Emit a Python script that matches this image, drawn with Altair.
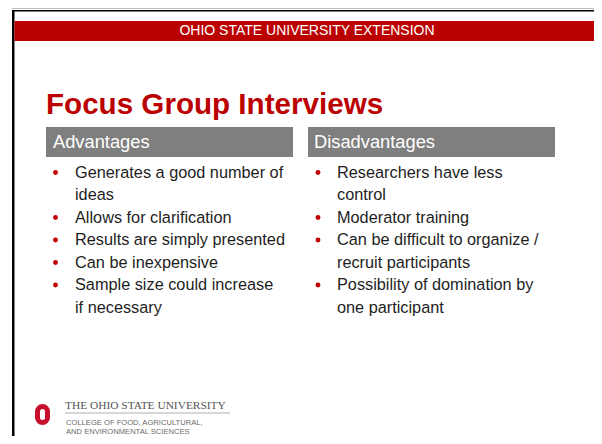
import altair as alt
import pandas as pd

# ---- content ----
banner_text = "OHIO STATE UNIVERSITY EXTENSION"
title_text = "Focus Group Interviews"
headers = ["Advantages", "Disadvantages"]
advantages = [
    ["Generates a good number of", "ideas"],
    ["Allows for clarification"],
    ["Results are simply presented"],
    ["Can be inexpensive"],
    ["Sample size could increase", "if necessary"],
]
disadvantages = [
    ["Researchers have less", "control"],
    ["Moderator training"],
    ["Can be difficult to organize /", "recruit participants"],
    ["Possibility of domination by", "one participant"],
]
logo_title = "THE OHIO STATE UNIVERSITY"
logo_sub = ["COLLEGE OF FOOD, AGRICULTURAL,", "AND ENVIRONMENTAL SCIENCES"]

# ---- layout (page pixel coordinates) ----
W, H = 586, 428
XS = alt.Scale(domain=[8, 8 + W], nice=False, zero=False)
YS = alt.Scale(domain=[8, 8 + H], nice=False, zero=False, reverse=True)
FONT = "Liberation Sans"
RED = "#bb0000"

def rects(rows):
    df = pd.DataFrame(rows, columns=["x", "x2", "y", "y2", "c"])
    return alt.Chart(df).mark_rect().encode(
        x=alt.X("x:Q", scale=XS, axis=None),
        x2="x2:Q",
        y=alt.Y("y:Q", scale=YS, axis=None),
        y2="y2:Q",
        color=alt.Color("c:N", scale=None),
    )

def texts(rows, font=FONT, **kw):
    df = pd.DataFrame(rows, columns=["x", "y", "t"])
    return alt.Chart(df).mark_text(font=font, **kw).encode(
        x=alt.X("x:Q", scale=XS, axis=None),
        y=alt.Y("y:Q", scale=YS, axis=None),
        text="t:N",
    )

frame = rects([
    [12, 594, 8, 9, "#bdbdbd"],
    [12, 594, 10, 11.5, "#000000"],
    [12, 14.5, 10, 436, "#000000"],
    [14.5, 594, 21, 41, RED],
    [46, 293, 127, 157, "#7f7f7f"],
    [308, 555, 127, 157, "#7f7f7f"],
    [65, 230, 412.5, 413.5, "#b0b0b0"],
])

banner = texts([[307, 31, banner_text]], fontSize=14, color="#ffffff",
               align="center", baseline="middle")
title = texts([[46, 113.5, title_text]], fontSize=29.6, fontWeight="bold",
              color=RED, align="left", baseline="alphabetic")
head = texts([[53, 142.5, headers[0]], [314, 142.5, headers[1]]], fontSize=18.3,
             color="#ffffff", align="left", baseline="middle")

Y0, STEP = 172.5, 22.5
line_rows, dot_rows = [], []
for items, xd, xt in [(advantages, 55.5, 75), (disadvantages, 318, 337)]:
    ln = 0
    for item in items:
        dot_rows.append([xd, Y0 + ln * STEP])
        for t in item:
            line_rows.append([xt, Y0 + ln * STEP, t])
            ln += 1

body = texts(line_rows, fontSize=16.3, color="#1e1e1e", align="left",
             baseline="middle")
dots = alt.Chart(pd.DataFrame(dot_rows, columns=["x", "y"])).mark_circle(
    size=24, color="#c00000", opacity=1).encode(
    x=alt.X("x:Q", scale=XS, axis=None),
    y=alt.Y("y:Q", scale=YS, axis=None),
)

logo_o = alt.Chart(pd.DataFrame([[37.5, 47.5, 406.5, 422.5]],
                                columns=["x", "x2", "y", "y2"])).mark_rect(
    fill="#ffffff", stroke="#c8102e", strokeWidth=5, cornerRadius=5).encode(
    x=alt.X("x:Q", scale=XS, axis=None), x2="x2:Q",
    y=alt.Y("y:Q", scale=YS, axis=None), y2="y2:Q",
)
logo_t = texts([[65, 405.5, logo_title]], font="Liberation Serif", fontSize=11.4,
               color="#555555", align="left", baseline="middle")
logo_s = texts([[66, 423, logo_sub[0]], [66, 432, logo_sub[1]]], fontSize=7.6,
               color="#6a6a6a", align="left", baseline="middle")

chart = alt.layer(frame, banner, title, head, dots, body, logo_o, logo_t, logo_s).properties(
    width=W, height=H, padding=0, autosize="none", background="#ffffff"
).configure_view(strokeWidth=0)

chart.save("out.html", embed_options={"renderer": "svg", "actions": False})
